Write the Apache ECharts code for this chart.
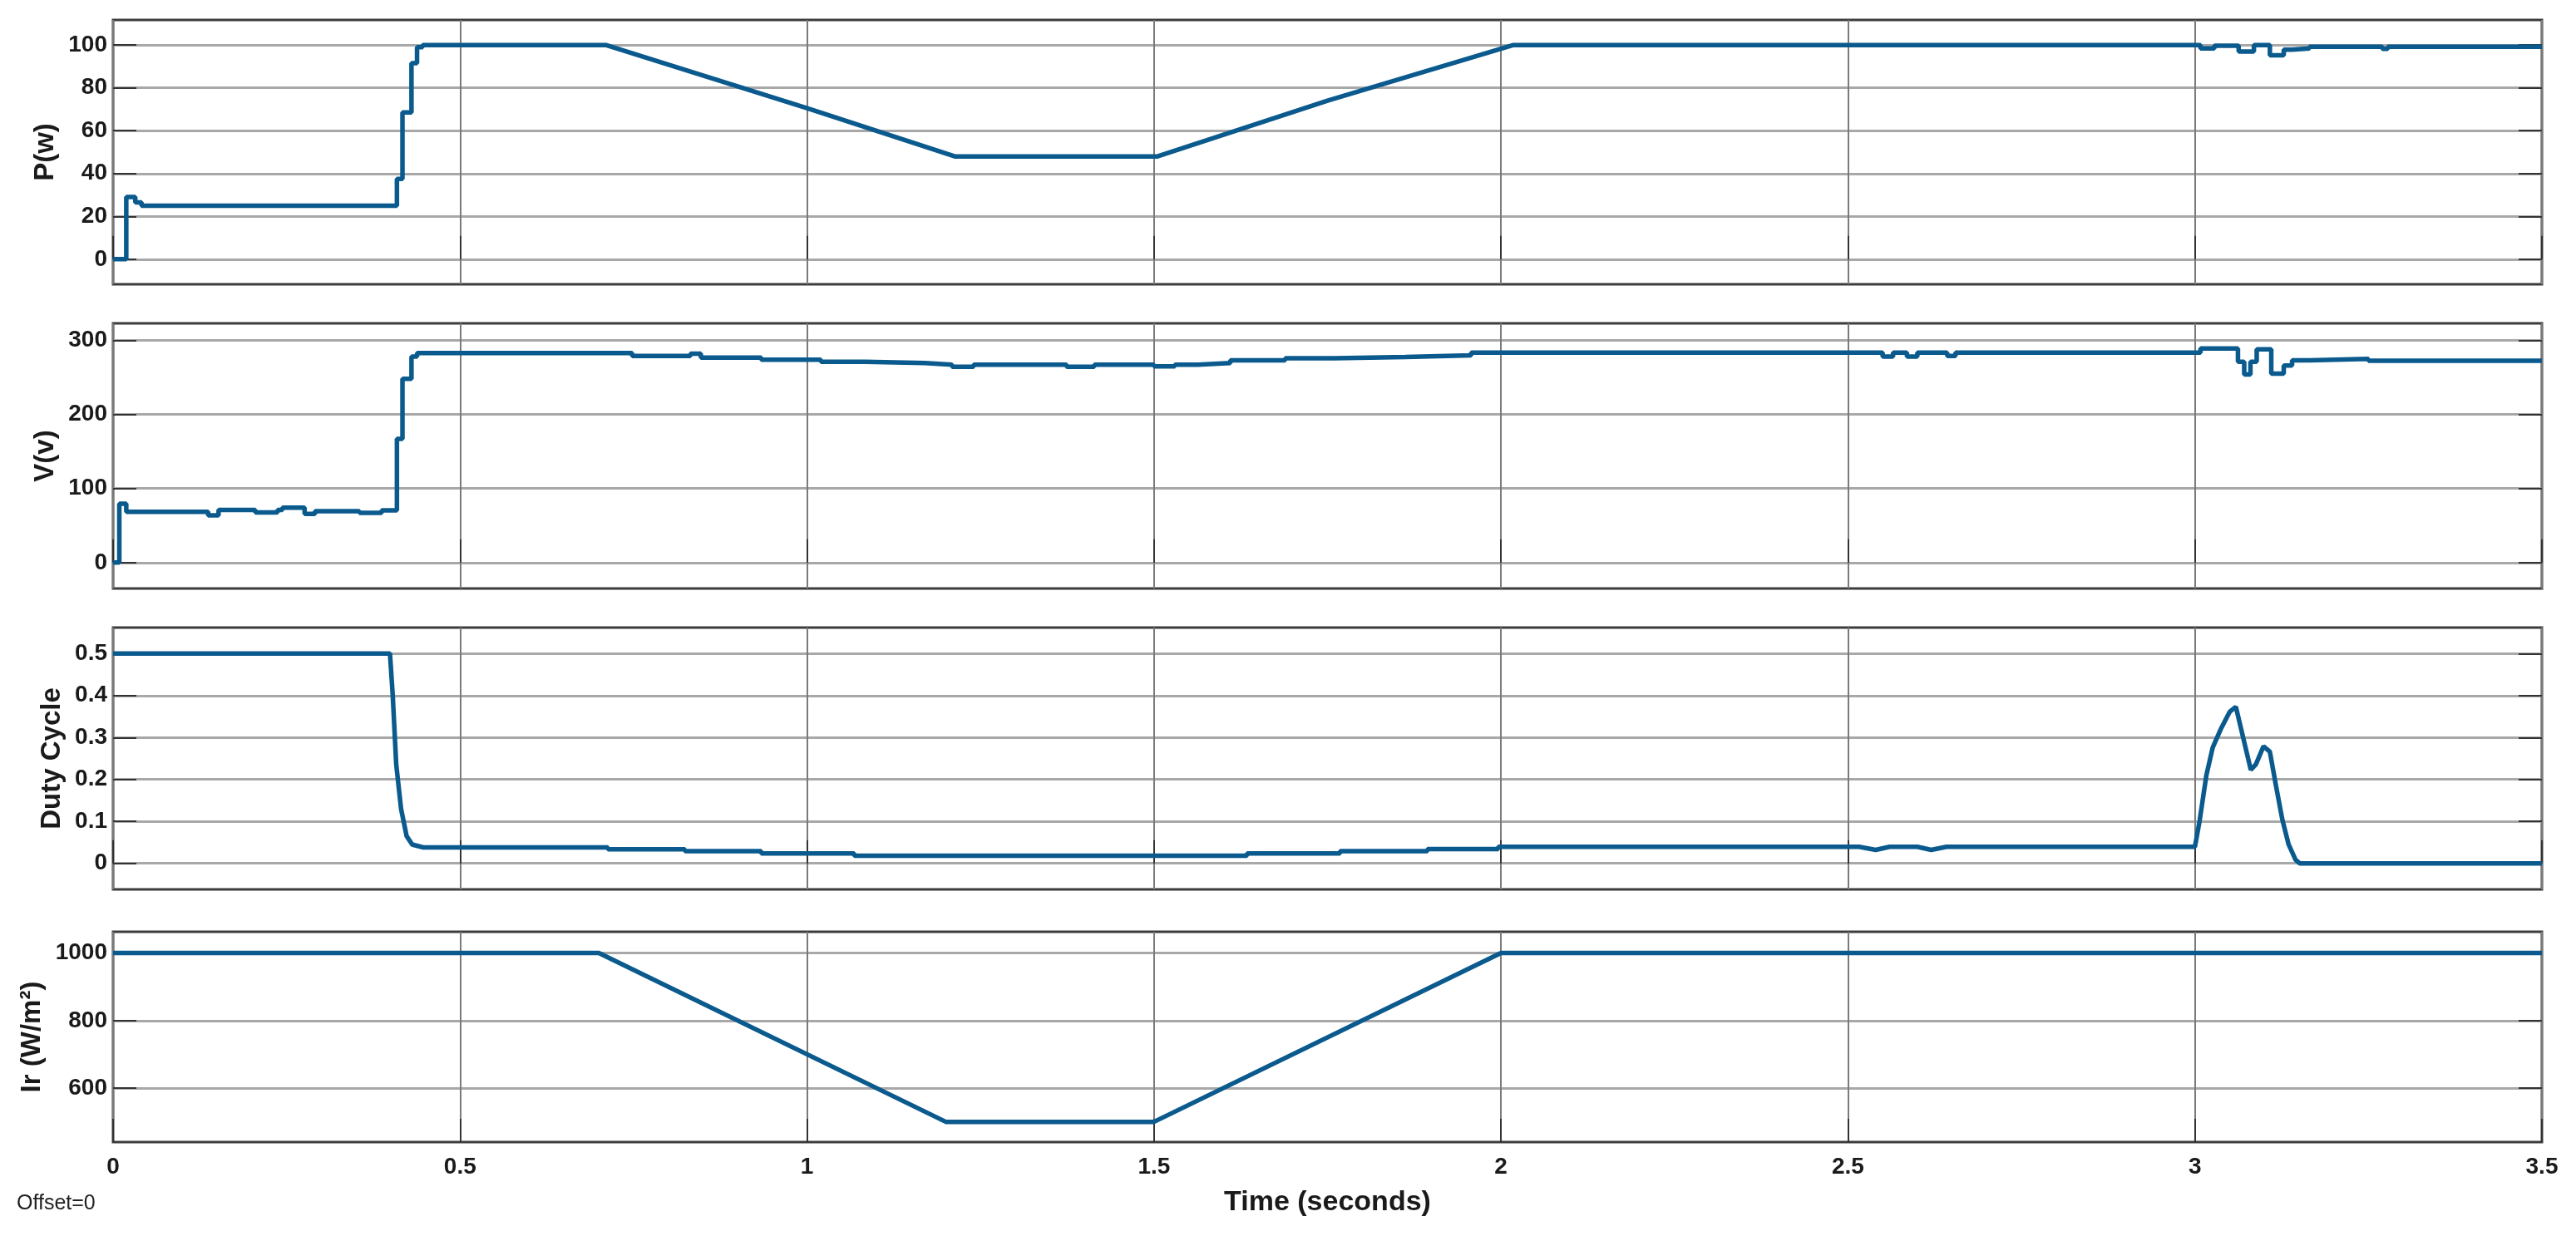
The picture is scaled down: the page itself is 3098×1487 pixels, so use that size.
<!DOCTYPE html>
<html>
<head>
<meta charset="utf-8">
<script src="https://cdn.jsdelivr.net/npm/echarts@6/dist/echarts.min.js"></script>
<style>
html,body{margin:0;padding:0;background:#fff;}
#chart{width:3098px;height:1487px;}
</style>
</head>
<body>
<div id="chart"></div>
<script>
// ---- data ----
const timeTicks = [0, 0.5, 1, 1.5, 2, 2.5, 3, 3.5];
const powerTicks = [0, 20, 40, 60, 80, 100];
const voltageTicks = [0, 100, 200, 300];
const dutyTicks = [0, 0.1, 0.2, 0.3, 0.4, 0.5];
const irradianceTicks = [600, 800, 1000];

const panelNames = ['P(w)', 'V(v)', 'Duty Cycle', 'Ir (W/m\u00B2)'];

const powerData = [
  [0,0],[0.019,0],[0.019,29],[0.032,29],[0.032,26.5],[0.041,26.5],[0.041,25],[0.409,25],
  [0.409,37.5],[0.417,37.5],[0.417,68.5],[0.43,68.5],[0.43,91.5],[0.438,91.5],[0.438,99],[0.446,99],
  [0.446,100],[0.71,100],[1.0,70.5],[1.213,48],[1.505,48],[1.75,74],[2.018,100],
  [3.008,100],[3.008,98.4],[3.028,98.4],[3.028,99.7],[3.063,99.7],[3.063,97],[3.085,97],
  [3.085,100],[3.108,100],[3.108,95.2],[3.128,95.2],[3.128,97.8],[3.14,97.8],[3.14,98.4],[3.165,98.4],
  [3.165,99.2],[3.27,99.2],[3.27,98.2],[3.278,98.2],[3.278,99.2],[3.5,99.2]
];

const voltageData = [
  [0,0],[0.009,0],[0.009,79.6],[0.019,79.6],[0.019,68.4],[0.137,68.4],[0.137,63.8],[0.152,63.8],
  [0.152,71],[0.205,71],[0.205,67.6],[0.237,67.6],[0.237,71],[0.244,71],[0.244,74],[0.276,74],
  [0.276,65.7],[0.291,65.7],[0.291,69.5],[0.355,69.5],[0.355,67],[0.387,67],[0.387,70.6],[0.409,70.6],
  [0.409,167],[0.417,167],[0.417,248],[0.43,248],[0.43,278],[0.438,278],[0.438,283],[0.748,283],
  [0.748,279],[0.832,279],[0.832,282],[0.847,282],[0.847,276.8],[0.934,276.8],[0.934,273.8],[1.02,273.8],
  [1.02,271.2],[1.083,271.2],[1.083,269.3],[1.17,269.3],[1.17,267.3],[1.209,267.3],[1.209,264.5],[1.24,264.5],
  [1.24,267.3],[1.374,267.3],[1.374,264.5],[1.414,264.5],[1.414,267.3],[1.5,267.3],[1.5,265],[1.53,265],
  [1.53,267.3],[1.563,267.3],[1.563,269.3],[1.61,269.3],[1.61,273],[1.689,273],[1.689,276],[1.76,276],
  [1.76,277.6],[1.862,277.6],[1.862,279.8],[1.957,279.8],[1.957,283.5],[2.55,283.5],[2.55,278],[2.565,278],
  [2.565,283.5],[2.585,283.5],[2.585,278],[2.6,278],[2.6,283.5],[2.643,283.5],[2.643,279],[2.655,279],
  [2.655,283.5],[3.008,283.5],[3.008,289],[3.062,289],[3.062,271],[3.071,271],[3.071,254],[3.08,254],
  [3.08,271],[3.089,271],[3.089,288],[3.11,288],[3.11,255],[3.128,255],[3.128,266],[3.14,266],
  [3.14,273],[3.165,273],[3.165,275],[3.25,275],[3.25,272.5],[3.5,272.5]
];

const dutyData = [
  [0,0.5],[0.399,0.5],[0.403,0.40],[0.408,0.236],[0.415,0.13],[0.423,0.065],[0.431,0.045],[0.447,0.038],
  [0.713,0.038],[0.713,0.0336],[0.824,0.0336],[0.824,0.029],[0.934,0.029],[0.934,0.0237],[1.068,0.0237],
  [1.068,0.0184],[1.634,0.0184],[1.634,0.0237],[1.768,0.0237],[1.768,0.029],[1.894,0.029],[1.894,0.034],
  [1.996,0.034],[1.996,0.0396],[2.516,0.0396],[2.54,0.032],[2.56,0.0396],[2.6,0.0396],[2.62,0.032],
  [2.642,0.0396],[3.0,0.0396],[3.007,0.104],[3.0165,0.21],[3.0256,0.276],[3.0378,0.322],[3.05,0.361],
  [3.059,0.373],[3.0805,0.223],[3.0878,0.236],[3.0988,0.279],[3.108,0.266],[3.117,0.183],[3.126,0.104],
  [3.135,0.045],[3.145,0.0086],[3.151,0],[3.5,0]
];

const irradianceData = [
  [0,1000],[0.7,1000],[1.2,500],[1.5,500],[2.0,1000],[3.5,1000]
];

// ---- layout / style ----
const FONT = 'Liberation Sans, Arial, sans-serif';
const LINE_COLOR = '#0a5a8e';
const grids = [
  {left:136, right:41, top:24,   height:318},
  {left:136, right:41, top:389,  height:319},
  {left:136, right:41, top:755,  height:315},
  {left:136, right:41, top:1121, height:253}
];
const yRanges = [[-11.7,111.7],[-35,323],[-0.062,0.562],[440,1063]];
const yTickSets = [powerTicks, voltageTicks, dutyTicks, irradianceTicks];
const nameGaps = [44, 44, 46, 58];
const seriesData = [powerData, voltageData, dutyData, irradianceData];

const xAxes = grids.map((g, i) => ({
  type:'value', gridIndex:i, min:0, max:3.5,
  axisLine:{show:false},
  axisTick:{show:true, inside:true, length:28, customValues:timeTicks, lineStyle:{color:'#333', width:2}},
  axisLabel:{show:i === 3, customValues:timeTicks, fontFamily:FONT, fontWeight:'bold', fontSize:28, color:'#1a1a1a', margin:16,
    formatter:v => String(v)},
  splitLine:{show:true, lineStyle:{color:'#7a7a7a', width:2}},
  name: i === 3 ? 'Time (seconds)' : '',
  nameLocation:'middle', nameGap:56,
  nameTextStyle:{fontFamily:FONT, fontWeight:'bold', fontSize:34, color:'#1a1a1a'}
}));

const yAxes = [];
grids.forEach((g, i) => {
  yAxes.push({
    type:'value', gridIndex:i, position:'left', min:yRanges[i][0], max:yRanges[i][1],
    axisLine:{show:false},
    axisTick:{show:true, inside:true, length:28, customValues:yTickSets[i], lineStyle:{color:'#333', width:2}},
    axisLabel:{show:true, customValues:yTickSets[i], fontFamily:FONT, fontWeight:'bold', fontSize:28, color:'#1a1a1a', margin:7,
      formatter:v => String(v)},
    splitLine:{show:true, lineStyle:{color:'#a8a8a8', width:3}},
    name:panelNames[i], nameLocation:'middle', nameRotate:90, nameGap:nameGaps[i],
    nameTextStyle:{fontFamily:FONT, fontWeight:'bold', fontSize:33, color:'#1a1a1a'}
  });
  yAxes.push({
    type:'value', gridIndex:i, position:'right', min:yRanges[i][0], max:yRanges[i][1],
    axisLine:{show:false},
    axisTick:{show:true, inside:true, length:28, customValues:yTickSets[i], lineStyle:{color:'#333', width:2}},
    axisLabel:{show:false},
    splitLine:{show:false}
  });
});

const series = seriesData.map((d, i) => ({
  type:'line', xAxisIndex:i, yAxisIndex:2*i, data:d,
  showSymbol:false, symbol:'none', animation:false,
  lineStyle:{color:LINE_COLOR, width:5.5}, z:5
}));

const option = {
  animation:false,
  backgroundColor:'#ffffff',
  grid: grids.map(g => Object.assign({show:true, borderColor:'#3c3c3c', borderWidth:3, backgroundColor:'#ffffff', containLabel:false}, g)),
  xAxis:xAxes,
  yAxis:yAxes,
  series:series,
  graphic:[{
    type:'text', left:20, top:1436,
    style:{text:'Offset=0', fontFamily:FONT, fontSize:25, fill:'#222'}
  }]
};

const chart = echarts.init(document.getElementById('chart'), null, {renderer:'canvas', width:3098, height:1487});
chart.setOption(option);
</script>
</body>
</html>
